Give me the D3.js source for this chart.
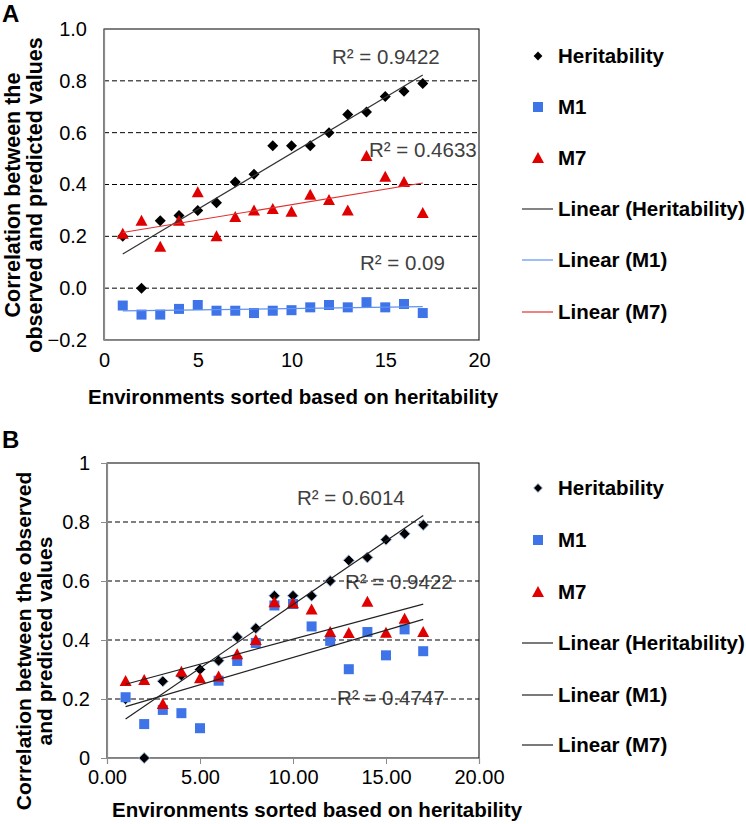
<!DOCTYPE html>
<html lang="en">
<head>
<meta charset="UTF-8">
<title>Correlation vs environments</title>
<script src="https://d3js.org/d3.v7.min.js"></script>
<style>
  body { margin: 0; background: #fff; }
  svg { display: block; font-family: "Liberation Sans", Arial, sans-serif; }
  .grid line { stroke: #000; stroke-dasharray: 5,3; stroke-width: 1; }
  .tick text { font-size: 20px; fill: #000; }
  .r2 { font-size: 20.5px; fill: #404040; }
  .leg { font-size: 20.5px; font-weight: bold; fill: #000; }
  .ttl { font-weight: bold; fill: #000; }
</style>
</head>
<body>
<div id="chart"></div>
<script>
// environments sorted by heritability
const envs = [1, 2, 3, 4, 5, 6, 7, 8, 9, 10, 11, 12, 13, 14, 15, 16, 17];
const heritability = [0.20, 0.00, 0.26, 0.28, 0.30, 0.33, 0.41, 0.44, 0.55, 0.55, 0.55, 0.60, 0.67, 0.68, 0.74, 0.76, 0.79];

// panel A
const m1A = [-0.067, -0.102, -0.102, -0.080, -0.065, -0.087, -0.087, -0.096, -0.087, -0.085, -0.074, -0.065, -0.074, -0.054, -0.074, -0.061, -0.096];
const m7A = [0.21, 0.26, 0.16, 0.26, 0.37, 0.20, 0.275, 0.30, 0.305, 0.295, 0.36, 0.34, 0.30, 0.51, 0.43, 0.41, 0.29];
const r2A = ["0.9422", "0.4633", "0.09"];

// panel B
const m1B = [0.206, 0.115, 0.163, 0.152, 0.101, 0.262, 0.329, 0.39, 0.517, 0.522, 0.446, 0.397, 0.301, 0.427, 0.348, 0.436, 0.362];
const m7B = [0.261, 0.264, 0.183, 0.292, 0.27, 0.276, 0.352, 0.40, 0.528, 0.525, 0.503, 0.427, 0.424, 0.53, 0.425, 0.472, 0.427];
const r2B = ["0.6014", "0.9422", "0.4747"];

const xTicks = [0, 5, 10, 15, 20];
const yTicksA = [-0.2, 0.0, 0.2, 0.4, 0.6, 0.8, 1.0];
const yTicksB = [0, 0.2, 0.4, 0.6, 0.8, 1];
const gridA = [0.0, 0.2, 0.4, 0.6, 0.8];
const gridB = [0.2, 0.4, 0.6, 0.8];
const legendNames = ["Heritability", "M1", "M7", "Linear (Heritability)", "Linear (M1)", "Linear (M7)"];

const BLUE = "#3f73e8", RED = "#e00000";

const width = 746, height = 824;
const svg = d3.select("#chart").append("svg")
  .attr("width", width).attr("height", height);

// least squares fit, like an Excel linear trendline
function fit(xs, ys) {
  const mx = d3.mean(xs), my = d3.mean(ys);
  const b = d3.sum(xs, (x, i) => (x - mx) * (ys[i] - my)) / d3.sum(xs, x => (x - mx) * (x - mx));
  return x => my + b * (x - mx);
}

function marker(g, shape, fill, stroke) {
  let p;
  if (shape === "diamond") p = g.append("path").attr("d", "M0,-5.5L5.5,0L0,5.5L-5.5,0Z");
  else if (shape === "square") p = g.append("rect").attr("x", -5).attr("y", -5).attr("width", 10).attr("height", 10);
  else p = g.append("path").attr("d", "M0,-6L6,5L-6,5Z");
  p.attr("fill", fill);
  if (stroke) p.attr("stroke", stroke).attr("stroke-width", 1);
}

const panels = [
  {
    label: "A", labelY: 22,
    left: 104, right: 479, top: 29, bottom: 340,
    yDomain: [-0.2, 1.0], yTicks: yTicksA, yFmt: d3.format(".1f"), xFmt: d3.format("d"),
    grid: gridA, tick: 0, xPad: 13,
    series: [
      { ys: heritability, shape: "diamond", fill: "#000", trend: "#333" },
      { ys: m1A, shape: "square", fill: BLUE, trend: "#5f92f2" },
      { ys: m7A, shape: "triangle", fill: RED, trend: "#e03030" }
    ],
    r2: r2A, r2Pos: [[332, 64], [369, 157], [360, 270]],
    yTitle: ["Correlation between the", "observed and predicted values"], yTitleX: [20, 42], yTitleY: 195, yTitleSize: 21.5,
    xTitleX: 293, xTitleY: 404,
    legendY: [56, 107, 158, 209, 260, 312]
  },
  {
    label: "B", labelY: 448,
    left: 107, right: 479, top: 463, bottom: 758,
    yDomain: [0, 1], yTicks: yTicksB, yFmt: d3.format(""), xFmt: d3.format(".2f"),
    grid: gridB, tick: 6, xPad: 12,
    series: [
      { ys: heritability, shape: "diamond", fill: "#000", stroke: "#a8c2ea", trend: "#222" },
      { ys: m1B, shape: "square", fill: BLUE, trend: "#222" },
      { ys: m7B, shape: "triangle", fill: RED, trend: "#222" }
    ],
    r2: r2B, r2Pos: [[297, 505], [345, 589], [337, 705]],
    yTitle: ["Correlation between the observed", "and predicted values"], yTitleX: [31, 52], yTitleY: 641, yTitleSize: 21,
    xTitleX: 317, xTitleY: 817,
    legendY: [488, 540, 592, 643, 695, 745]
  }
];

panels.forEach(p => {
  const x = d3.scaleLinear().domain([0, 20]).range([p.left, p.right]);
  const y = d3.scaleLinear().domain(p.yDomain).range([p.bottom, p.top]);
  const g = svg.append("g");

  g.append("text").attr("class", "ttl").attr("x", 2).attr("y", p.labelY)
    .attr("font-size", 24).text(p.label);

  // R² labels sit under the dashed gridlines
  p.r2.forEach((v, i) => {
    g.append("text").attr("class", "r2")
      .attr("x", p.r2Pos[i][0]).attr("y", p.r2Pos[i][1])
      .text("R² = " + v);
  });

  g.append("g").attr("class", "grid")
    .selectAll("line").data(p.grid).enter().append("line")
    .attr("x1", p.left).attr("x2", p.right)
    .attr("y1", d => y(d)).attr("y2", d => y(d));

  // plot frame
  g.append("rect").attr("x", p.left).attr("y", p.top)
    .attr("width", p.right - p.left).attr("height", p.bottom - p.top)
    .attr("fill", "none").attr("stroke", "#000").attr("stroke-width", 1);

  const yAxis = d3.axisLeft(y).tickValues(p.yTicks).tickFormat(p.yFmt)
    .tickSize(p.tick).tickPadding(17 - p.tick);
  const xAxis = d3.axisBottom(x).tickValues(xTicks).tickFormat(p.xFmt)
    .tickSize(p.tick).tickPadding(p.xPad - p.tick);

  const ya = g.append("g").attr("transform", `translate(${p.left},0)`).call(yAxis);
  const xa = g.append("g").attr("transform", `translate(0,${p.bottom})`).call(xAxis);
  [ya, xa].forEach(a => {
    a.select(".domain").attr("stroke", "#8c8c8c").attr("stroke-width", 1.2);
    a.selectAll(".tick line").attr("stroke", "#8c8c8c");
    a.selectAll(".tick text").attr("font-family", null).attr("font-size", null);
  });
  ya.attr("font-family", null).attr("font-size", null);
  xa.attr("font-family", null).attr("font-size", null);

  // markers
  p.series.forEach(s => {
    g.append("g").selectAll("g").data(envs).enter().append("g")
      .attr("transform", (d, i) => `translate(${x(d)},${y(s.ys[i])})`)
      .each(function () { marker(d3.select(this), s.shape, s.fill, s.stroke); });
  });

  // trend lines
  p.series.forEach(s => {
    const f = fit(envs, s.ys);
    const x0 = d3.min(envs), x1 = d3.max(envs);
    g.append("line")
      .attr("x1", x(x0)).attr("y1", y(f(x0)))
      .attr("x2", x(x1)).attr("y2", y(f(x1)))
      .attr("stroke", s.trend).attr("stroke-width", 1.2);
  });

  // axis titles
  p.yTitle.forEach((t, i) => {
    g.append("text").attr("class", "ttl")
      .attr("font-size", p.yTitleSize)
      .attr("text-anchor", "middle")
      .attr("transform", `translate(${p.yTitleX[i]},${p.yTitleY}) rotate(-90)`)
      .text(t);
  });
  g.append("text").attr("class", "ttl").attr("font-size", 20.5)
    .attr("text-anchor", "middle")
    .attr("x", p.xTitleX).attr("y", p.xTitleY)
    .text("Environments sorted based on heritability");

  // legend
  const leg = g.append("g");
  legendNames.forEach((name, i) => {
    const ly = p.legendY[i];
    const row = leg.append("g").attr("transform", `translate(538,${ly})`);
    if (i < 3) {
      const s = p.series[i];
      const m = row.append("g").attr("transform", i === 0 ? "scale(0.8)" : null);
      marker(m, s.shape, s.fill, s.stroke);
    } else {
      row.append("line").attr("x1", -16).attr("x2", 15).attr("y1", 0).attr("y2", 0)
        .attr("stroke", p.series[i - 3].trend).attr("stroke-width", 1.2);
    }
    leg.append("text").attr("class", "leg")
      .attr("x", 558).attr("y", ly).attr("dy", "0.36em")
      .text(name);
  });
});
</script>
</body>
</html>
